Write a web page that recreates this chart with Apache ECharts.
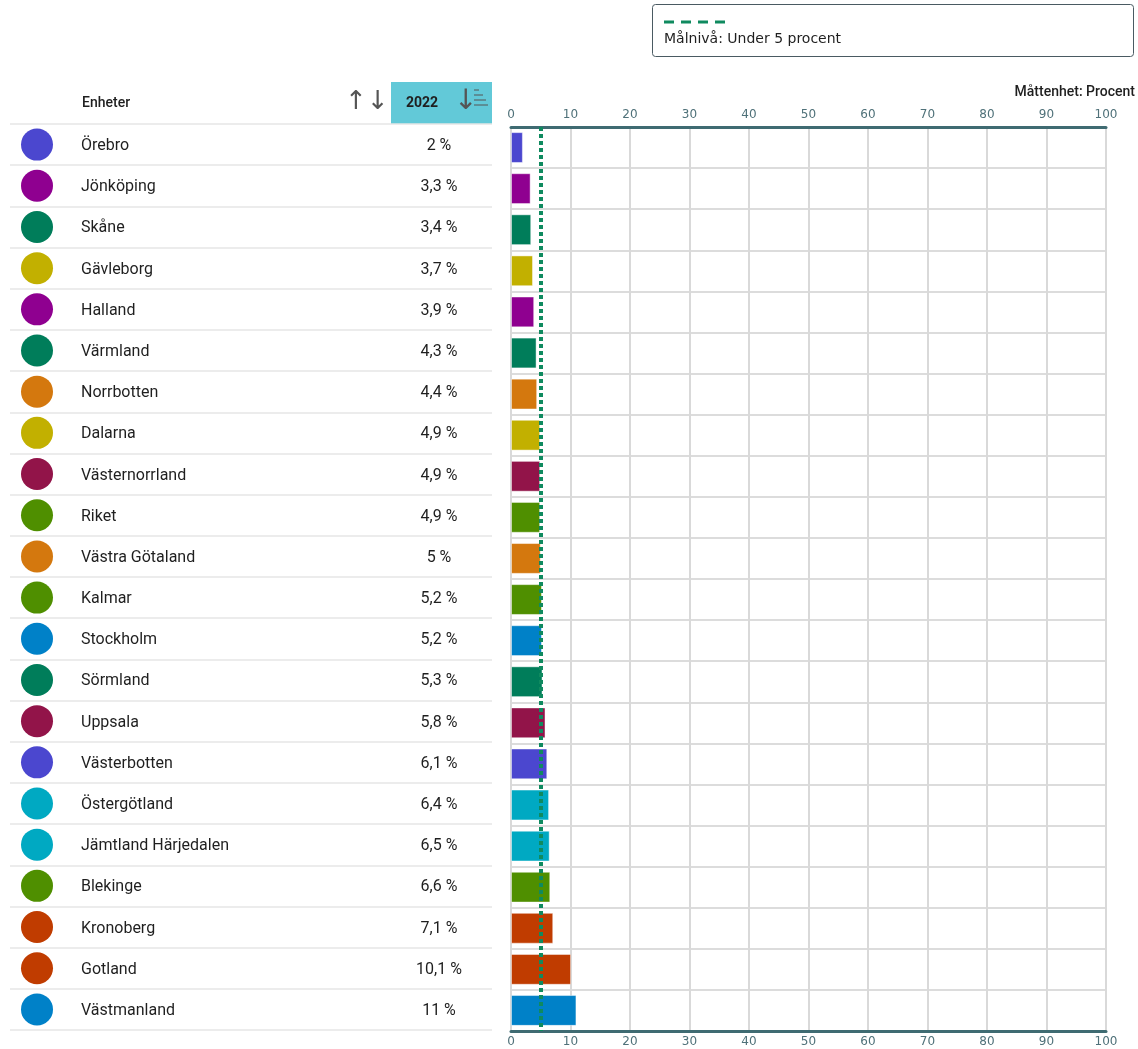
<!DOCTYPE html>
<html>
<head>
<meta charset="utf-8">
<script src="https://cdn.jsdelivr.net/npm/echarts@6/dist/echarts.min.js"></script>
<style>
  html, body { margin: 0; padding: 0; background: #fff; }
  #chart { width: 1138px; height: 1049px; }
</style>
</head>
<body>
<div id="chart"></div>
<script>
const units = ['Örebro', 'Jönköping', 'Skåne', 'Gävleborg', 'Halland', 'Värmland', 'Norrbotten', 'Dalarna',
  'Västernorrland', 'Riket', 'Västra Götaland', 'Kalmar', 'Stockholm', 'Sörmland', 'Uppsala', 'Västerbotten',
  'Östergötland', 'Jämtland Härjedalen', 'Blekinge', 'Kronoberg', 'Gotland', 'Västmanland']
const values = [2, 3.3, 3.4, 3.7, 3.9, 4.3, 4.4, 4.9, 4.9, 4.9, 5, 5.2, 5.2, 5.3, 5.8, 6.1, 6.4, 6.5, 6.6, 7.1, 10.1, 11]
const colors = ['#4b47cf', '#8f0090', '#007d5a', '#c2b000', '#8f0090', '#007d5a', '#d4780e', '#c2b000',
  '#921449', '#4f8f00', '#d4780e', '#4f8f00', '#0081c8', '#007d5a', '#921449', '#4b47cf',
  '#00a9c2', '#00a9c2', '#4f8f00', '#c03c00', '#c03c00', '#0081c8']
const target = 5
const xTicks = [0, 10, 20, 30, 40, 50, 60, 70, 80, 90, 100]

const fmt = (v) => String(v).replace('.', ',') + ' %'

const dotRich = {}
colors.forEach((c, i) => {
  dotRich['c' + i] = { width: 32, height: 32, borderRadius: 16, backgroundColor: c }
})
dotRich.name = { fontFamily: 'Roboto', fontSize: 16, color: '#1f1f1f', padding: [3, 0, 0, 28] }

const axisLabelStyle = {
  color: '#4f7179',
  fontFamily: 'DejaVu Sans',
  fontSize: 12
}

const myChart = echarts.init(document.getElementById('chart'))
const option = {
  animation: false,
  grid: [
    { left: 10, width: 482, top: 124, bottom: 19 },
    { left: 511, right: 32, top: 127, bottom: 18 }
  ],
  xAxis: [
    { gridIndex: 0, type: 'value', min: 0, max: 1, show: false },
    {
      gridIndex: 1,
      type: 'value',
      position: 'top',
      min: xTicks[0],
      max: xTicks[xTicks.length - 1],
      interval: 10,
      axisLine: { show: true, lineStyle: { color: '#3f6b72', width: 3 } },
      axisTick: { show: false },
      axisLabel: { ...axisLabelStyle, margin: 6 },
      splitLine: { show: true, lineStyle: { color: '#d9d9d9', width: 2 } }
    },
    {
      gridIndex: 1,
      type: 'value',
      position: 'bottom',
      min: xTicks[0],
      max: xTicks[xTicks.length - 1],
      interval: 10,
      axisLine: { show: true, lineStyle: { color: '#3f6b72', width: 3 } },
      axisTick: { show: false },
      axisLabel: { ...axisLabelStyle, margin: 5 },
      splitLine: { show: false }
    }
  ],
  yAxis: [
    {
      gridIndex: 0,
      type: 'category',
      data: units,
      inverse: true,
      axisLine: { show: false },
      axisTick: { show: false },
      axisLabel: {
        inside: true,
        margin: 11,
        formatter: (v, i) => `{c${i}|}{name|${v}}`,
        rich: dotRich
      },
      splitLine: { show: true, lineStyle: { color: '#e6e6e6', width: 1.5 } }
    },
    {
      gridIndex: 0,
      type: 'category',
      data: units,
      inverse: true,
      position: 'right',
      axisLine: { show: false },
      axisTick: { show: false },
      axisLabel: {
        inside: true,
        margin: 53,
        align: 'center',
        formatter: (v, i) => `{v|${fmt(values[i])}}`,
        rich: {
          v: { fontFamily: 'Roboto', fontSize: 16, color: '#1f1f1f', padding: [3, 0, 0, 0] }
        }
      }
    },
    {
      gridIndex: 1,
      type: 'category',
      data: units,
      inverse: true,
      axisLine: { show: false },
      axisTick: { show: false },
      axisLabel: { show: false },
      splitLine: { show: true, lineStyle: { color: '#dcdcdc', width: 2 } }
    }
  ],
  series: [
    {
      type: 'bar',
      xAxisIndex: 1,
      yAxisIndex: 2,
      z: 3,
      barCategoryGap: '25%',
      data: values.map((v, i) => ({ value: v, itemStyle: { color: colors[i] } })),
      itemStyle: { borderColor: 'rgba(255,255,255,0.45)', borderWidth: 1 }
    },
    {
      type: 'line',
      xAxisIndex: 1,
      yAxisIndex: 2,
      z: 2,
      data: [],
      markLine: {
        silent: true,
        symbol: 'none',
        label: { show: false },
        lineStyle: { color: '#0f8a5f', width: 4, type: [4, 3] },
        data: [{ xAxis: target }]
      }
    }
  ],
  graphic: [
    {
      type: 'rect',
      shape: { x: 652.5, y: 4.5, width: 481, height: 52, r: 3 },
      style: { fill: '#fff', stroke: '#4a5a62', lineWidth: 1 }
    },
    {
      type: 'line',
      shape: { x1: 664, y1: 22, x2: 726, y2: 22 },
      style: { stroke: '#0f8a5f', lineWidth: 3, lineDash: [10, 7] }
    },
    {
      type: 'text',
      x: 664,
      y: 39,
      style: { text: 'Målnivå: Under 5 procent', fontFamily: 'DejaVu Sans', fontSize: 14, fill: '#1f1f1f', verticalAlign: 'middle' }
    },
    {
      type: 'text',
      x: 1135,
      y: 92,
      style: { text: 'Måttenhet: Procent', fontFamily: 'Roboto', fontSize: 14, fontWeight: 500, fill: '#1f1f1f', align: 'right', verticalAlign: 'middle' }
    },
    {
      type: 'text',
      x: 82,
      y: 103,
      style: { text: 'Enheter', fontFamily: 'Roboto', fontSize: 14, fontWeight: 500, fill: '#1f1f1f', verticalAlign: 'middle' }
    },
    {
      type: 'text',
      x: 345,
      y: 102,
      style: { text: '↑↓', fontFamily: 'DejaVu Sans', fontSize: 26, fill: '#555', verticalAlign: 'middle' }
    },
    {
      type: 'rect',
      shape: { x: 391, y: 82, width: 101, height: 42 },
      style: { fill: '#62c9d8' }
    },
    {
      type: 'text',
      x: 406,
      y: 103,
      style: { text: '2022', fontFamily: 'Roboto', fontSize: 14, fontWeight: 700, fill: '#1f1f1f', verticalAlign: 'middle' }
    },
    {
      type: 'text',
      x: 454,
      y: 102,
      style: { text: '↓', fontFamily: 'DejaVu Sans', fontSize: 28, fill: '#555', verticalAlign: 'middle' }
    },
    { type: 'line', shape: { x1: 474, y1: 90, x2: 479, y2: 90 }, style: { stroke: '#555', lineWidth: 1 } },
    { type: 'line', shape: { x1: 474, y1: 95, x2: 483, y2: 95 }, style: { stroke: '#555', lineWidth: 1 } },
    { type: 'line', shape: { x1: 474, y1: 100, x2: 486, y2: 100 }, style: { stroke: '#555', lineWidth: 1 } },
    { type: 'line', shape: { x1: 474, y1: 105, x2: 488, y2: 105 }, style: { stroke: '#555', lineWidth: 1 } }
  ]
}
myChart.setOption(option)
</script>
</body>
</html>
